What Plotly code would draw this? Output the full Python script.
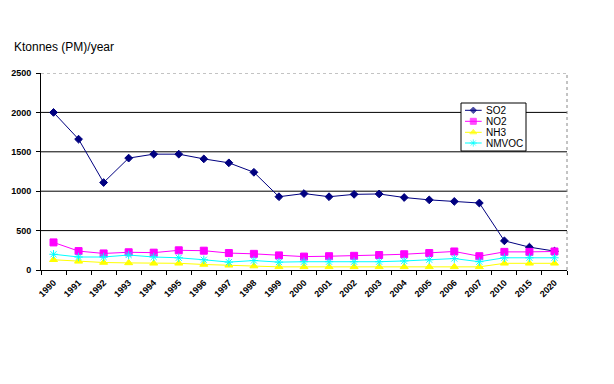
import plotly.graph_objects as go

years = ["1990", "1991", "1992", "1993", "1994", "1995", "1996", "1997", "1998", "1999",
         "2000", "2001", "2002", "2003", "2004", "2005", "2006", "2007", "2010", "2015", "2020"]
so2 = [2000, 1660, 1110, 1420, 1470, 1470, 1410, 1360, 1240, 930,
       970, 930, 960, 965, 920, 890, 870, 850, 370, 290, 240]
no2 = [350, 240, 210, 225, 220, 250, 245, 215, 205, 185,
       170, 175, 180, 190, 200, 215, 235, 175, 230, 230, 235]
nh3 = [130, 110, 95, 90, 85, 85, 70, 60, 50, 40,
       40, 40, 40, 40, 40, 40, 40, 40, 85, 85, 85]
nmvoc = [200, 165, 165, 190, 165, 155, 130, 100, 120, 100,
         105, 105, 105, 105, 115, 130, 145, 105, 155, 155, 155]
series_names = ["SO2", "NO2", "NH3", "NMVOC"]
y_ticks = [0, 500, 1000, 1500, 2000, 2500]

FONT = "Liberation Sans, Arial, sans-serif"

# plot area in pixels (page has 8px body margin)
PW, PH = 526, 197

styles = [
    ("#000080", "diamond", 6),
    ("#FF00FF", "square", 7),
    ("#FFFF00", "triangle-up", 7),
    ("#00FFFF", "asterisk-open", 7),
]

fig = go.Figure()
for name, vals, (col, sym, sz) in zip(series_names, [so2, no2, nh3, nmvoc], styles):
    fig.add_trace(go.Scatter(
        x=years, y=vals, name=name, mode="lines+markers", showlegend=False,
        line=dict(color=col, width=1),
        marker=dict(symbol=sym, size=sz, color=col, line=dict(color=col, width=1)),
    ))

# custom compact legend (drawn on an overlay pixel-scaled axis pair)
box_x0, box_x1, box_y0, box_y1 = 420, 485, 119, 167
row_y = [159.7, 148.7, 137.7, 127]
annotations = [dict(text="Ktonnes (PM)/year", xref="paper", yref="paper",
                    x=-0.0551, y=1.132, xanchor="left", yanchor="middle",
                    showarrow=False, font=dict(family=FONT, size=12, color="black"))]
for name, ry, (col, sym, sz) in zip(series_names, row_y, styles):
    fig.add_trace(go.Scatter(
        x=[424, 432.3, 440.7], y=[ry, ry, ry], xaxis="x2", yaxis="y2",
        mode="lines+markers", showlegend=False, hoverinfo="skip",
        line=dict(color=col, width=1),
        marker=dict(symbol=sym, size=[0, sz - 1, 0], color=col, line=dict(color=col, width=1)),
    ))
    annotations.append(dict(text=name, xref="x2", yref="y2", x=442.5, y=ry,
                            xanchor="left", yanchor="middle", showarrow=False,
                            font=dict(family=FONT, size=10, color="black")))

shapes = []
# gridlines (drawn as shapes so the legend box can sit over them)
for v in y_ticks[1:-1]:
    shapes.append(dict(type="line", xref="paper", yref="y", x0=0, x1=1, y0=v, y1=v,
                       line=dict(color="black", width=1), layer="below"))
shapes += [
    dict(type="line", xref="paper", yref="y", x0=0, x1=1, y0=y_ticks[-1], y1=y_ticks[-1],
         line=dict(color="#888888", width=1, dash="dot"), layer="below"),
    dict(type="line", xref="paper", yref="paper", x0=1, x1=1, y0=0, y1=1,
         line=dict(color="#888888", width=1, dash="dot"), layer="below"),
    dict(type="rect", xref="paper", yref="paper",
         x0=box_x0 / PW, x1=box_x1 / PW, y0=box_y0 / PH, y1=box_y1 / PH,
         fillcolor="white", line=dict(color="black", width=1), layer="below"),
]

fig.update_layout(
    width=614, height=384,
    margin=dict(l=33, r=55, t=65, b=122, autoexpand=False),
    paper_bgcolor="white", plot_bgcolor="white",
    font=dict(family=FONT, size=8, color="black"),
    showlegend=False,
    annotations=annotations,
    shapes=shapes,
    xaxis=dict(
        type="category", range=[-0.5, len(years) - 0.5], automargin=False,
        showline=True, linecolor="black", linewidth=1,
        ticks="outside", tickson="boundaries", ticklen=4, tickcolor="black",
        tickangle=-45, tickfont=dict(family=FONT, size=9, color="black", weight="bold"),
        ticklabelstandoff=3,
        showgrid=False, zeroline=False,
    ),
    yaxis=dict(
        range=[0, 2500], tickvals=y_ticks, automargin=False,
        showline=True, linecolor="black", linewidth=1,
        ticks="outside", ticklen=4, tickcolor="black",
        tickfont=dict(family=FONT, size=9, color="black", weight="bold"),
        showgrid=False, zeroline=False,
        ticklabelstandoff=3,
    ),
    xaxis2=dict(overlaying="x", anchor="y2", range=[0, PW], visible=False,
                fixedrange=True, automargin=False),
    yaxis2=dict(overlaying="y", anchor="x2", range=[0, PH], visible=False,
                fixedrange=True, automargin=False),
)
fig.write_html("out.html")
